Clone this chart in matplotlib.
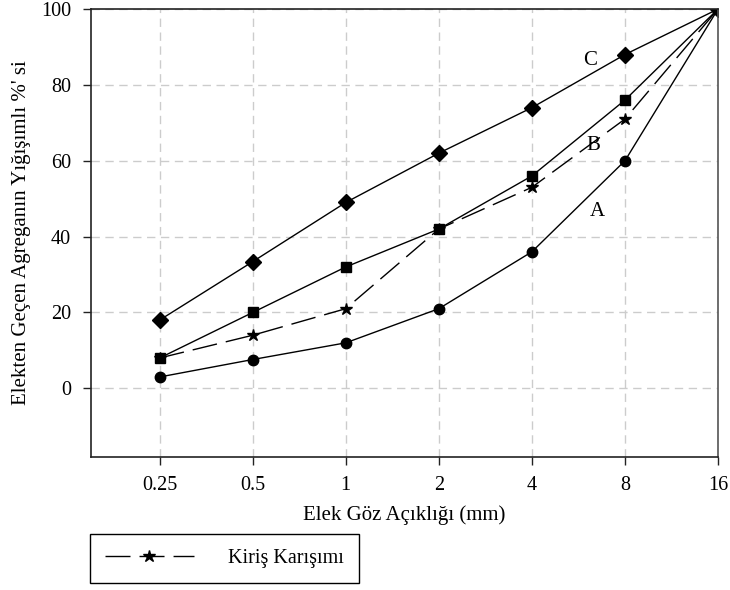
import matplotlib
matplotlib.use("Agg")
import matplotlib.pyplot as plt

plt.rcParams['font.family'] = ['Liberation Serif', 'DejaVu Serif']

# elek göz açıklığı (mm)
sieve = [0.25, 0.5, 1, 2, 4, 8, 16]
tick_labels = ['0.25', '0.5', '1', '2', '4', '8', '16']
# sınır eğrileri (A, B, C) ve kiriş karışımı
curve_a = [3, 7.6, 12, 21, 36, 60, 100]
curve_b = [8, 20, 32, 42, 56, 76, 100]
curve_c = [18, 33.4, 49, 62, 74, 88, 100]
kiris = [8, 14, 21, 42, 53, 71, 100]

fig = plt.figure(figsize=(7.3, 5.9), dpi=100)
ax = fig.add_axes([0.1247, 0.2254, 0.8589, 0.7593])

ax.plot(sieve, curve_a, color='black', lw=1, marker='o', ms=7.5)
ax.plot(sieve, curve_b, color='black', lw=1, marker='s', ms=7)
ax.plot(sieve, curve_c, color='black', lw=1, marker='D', ms=8)
line_k, = ax.plot(sieve, kiris, color='black', lw=1, ls=(0, (18, 6.5)),
                  marker='*', ms=9, label='Kiriş Karışımı')

ax.set_xscale('log', base=2)
ax.set_xlim(0.150, 16)
ax.set_ylim(-18.1, 100)
ax.set_xticks(sieve)
ax.set_xticklabels(tick_labels)
ax.minorticks_off()
ax.set_yticks([0, 20, 40, 60, 80, 100])

ax.grid(True, color='#cccccc', ls=(0, (6, 4)), lw=1)
ax.set_axisbelow(True)
ax.tick_params(direction='out', length=6, width=1, labelsize=14.5, color='#222222')
ax.tick_params(axis='x', pad=8)
ax.tick_params(axis='y', pad=8.5)
for side in ['left', 'bottom', 'top']:
    ax.spines[side].set_color('#222222')
ax.spines['right'].set_color('#555555')
for s in ax.spines.values():
    s.set_linewidth(1.2)

# eğri etiketleri
ax.text(8 * 2 ** -0.37, 86.5, 'C', fontsize=15, ha='center', va='center')
ax.text(8 * 2 ** -0.34, 64.0, 'B', fontsize=15, ha='center', va='center')
ax.text(8 * 2 ** -0.30, 46.5, 'A', fontsize=15, ha='center', va='center')

fig.text(404 / 730, 1 - 515 / 590, 'Elek Göz Açıklığı (mm)', fontsize=15,
         ha='center', va='center')
fig.text(21.5 / 730, 1 - 233 / 590, "Elekten Geçen Agreganın Yığışımlı %' si",
         fontsize=15, ha='center', va='center', rotation=90)

leg = fig.legend(handles=[line_k], loc='lower left',
                 bbox_to_anchor=(0.123, 0.012), borderaxespad=0,
                 fontsize=14.5, handlelength=4.4, handletextpad=1.7,
                 borderpad=0.75, fancybox=False, edgecolor='black',
                 framealpha=1)
leg.get_frame().set_linewidth(1)

fig.savefig('out.png', dpi=100)
